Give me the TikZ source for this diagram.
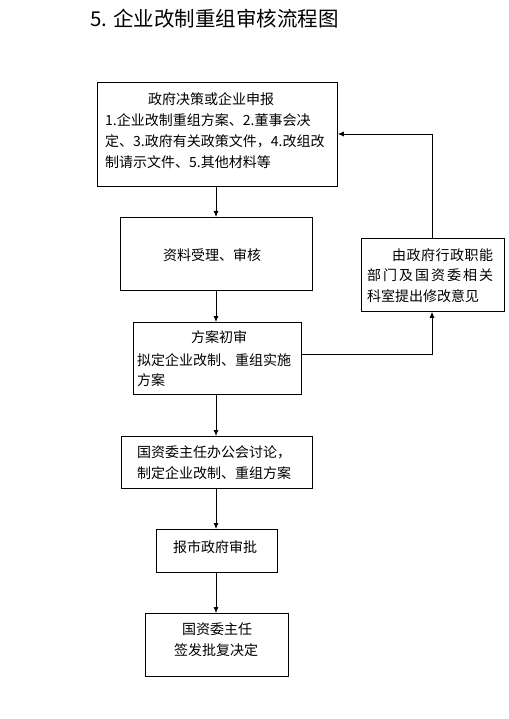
\documentclass[tikz,border=0pt]{standalone}
\usepackage{fontspec}
\setmainfont{Noto Sans CJK SC}
\usetikzlibrary{arrows.meta}
\begin{document}
\begin{tikzpicture}[x=1pt,y=-1pt,
  box/.style={draw, line width=0.8pt, inner sep=0pt, anchor=north west},
  txt/.style={inner sep=0pt, font=\fontsize{14}{21}\selectfont},
  arr/.style={-{Latex[length=6pt,width=5pt]}, line width=0.8pt}]
\useasboundingbox (0,0) rectangle (508,719);

% title
\node[inner sep=0pt, anchor=west, font=\fontsize{20.5}{24}\selectfont] (title) at (90,19) {5. 企业改制重组审核流程图};

% boxes
\node[box, minimum width=240pt, minimum height=104pt] (b1) at (97,82) {};
\node[box, minimum width=192pt, minimum height=73pt] (b2) at (120,217) {};
\node[box, minimum width=168pt, minimum height=72pt] (b3) at (133,322) {};
\node[box, minimum width=143pt, minimum height=73pt] (r) at (361,238) {};
\node[box, minimum width=191pt, minimum height=52pt] (b4) at (121,436) {};
\node[box, minimum width=121pt, minimum height=43pt] (b5) at (156,529) {};
\node[box, minimum width=143pt, minimum height=63pt] (b6) at (145,613) {};

% texts box1
\node[txt] (t1a) at (211,99) {政府决策或企业申报};
\node[txt, anchor=west] (t1b) at (105,120) {1.企业改制重组方案、2.董事会决};
\node[txt, anchor=west] (t1c) at (105,141) {定、3.政府有关政策文件，4.改组改};
\node[txt, anchor=west] (t1d) at (105,162) {制请示文件、5.其他材料等};

% box2
\node[txt, anchor=west] (t2) at (163,255) {资料受理、审核};

% box3
\node[txt] (t3a) at (219,337) {方案初审};
\node[txt, anchor=west] (t3b) at (137,360) {拟定企业改制、重组实施};
\node[txt, anchor=west] (t3c) at (137,380) {方案};

% right box
\node[txt, anchor=west] (tra) at (392,255) {\makebox[101pt][s]{由\hfill 政\hfill 府\hfill 行\hfill 政\hfill 职\hfill 能}};
\node[txt, anchor=west] (trb) at (367,275) {\makebox[126pt][s]{部\hfill 门\hfill 及\hfill 国\hfill 资\hfill 委\hfill 相\hfill 关}};
\node[txt, anchor=west] (trc) at (367,296) {科室提出修改意见};

% box4
\node[txt, anchor=west] (t4a) at (137,452) {国资委主任办公会讨论，};
\node[txt, anchor=west] (t4b) at (137,473) {制定企业改制、重组方案};

% box5
\node[txt, anchor=west] (t5) at (173,547) {报市政府审批};

% box6
\node[txt] (t6a) at (217,629) {国资委主任};
\node[txt] (t6b) at (216,650) {签发批复决定};

% connectors
\coordinate (ax) at (216,0);
\draw[arr] (b1.south -| ax) -- (b2.north -| ax);
\draw[arr] (b2.south -| ax) -- (b3.north -| ax);
\draw[arr] (b3.south -| ax) -- (b4.north -| ax);
\draw[arr] (b4.south -| ax) -- (b5.north -| ax);
\draw[arr] (b5.south -| ax) -- (b6.north -| ax);
\coordinate (c1) at (432,354);
\coordinate (c2) at (432,134);
\draw[arr] (b3.east |- c1) -- (c1) -- (r.south -| c1);
\draw[arr] (r.north -| c2) -- (c2) -- (b1.east |- c2);
\end{tikzpicture}
\end{document}
